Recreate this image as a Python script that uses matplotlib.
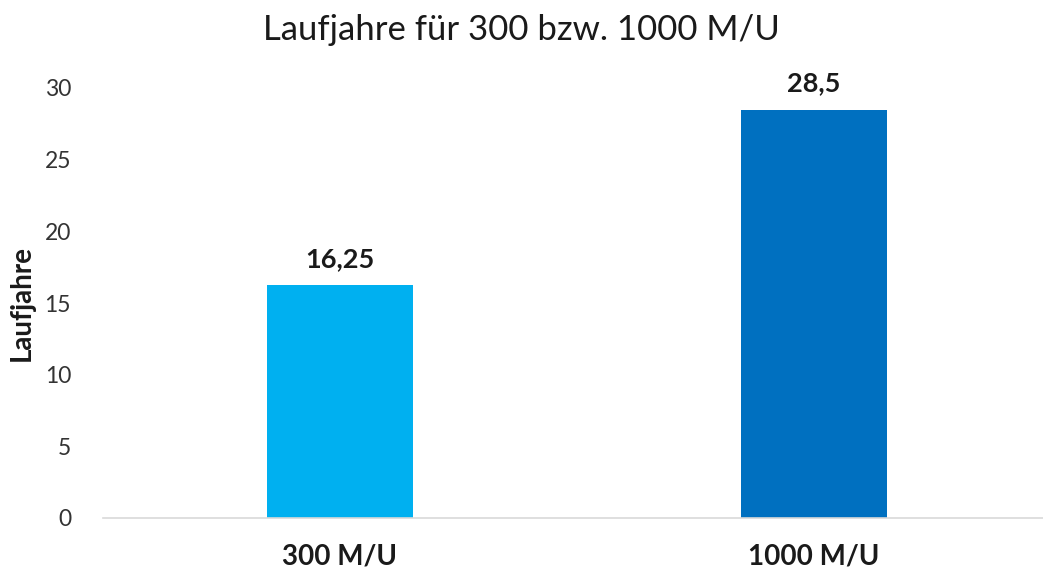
import matplotlib
matplotlib.use("Agg")
import matplotlib.pyplot as plt

categories = ["300 M/U", "1000 M/U"]
laufjahre = [16.25, 28.5]
value_labels = ["16,25", "28,5"]
bar_colors = ["#00B0F0", "#0070C0"]
y_ticks = [0, 5, 10, 15, 20, 25, 30]

plt.rcParams['font.family'] = ['Lato', 'DejaVu Sans']

fig = plt.figure(figsize=(10.43, 5.70), dpi=100)
ax = fig.add_axes([103 / 1043, 52 / 570, 948 / 1043, 430 / 570])

x = range(len(categories))
bars = ax.bar(x, laufjahre, width=0.31, color=bar_colors)

# Werte über den Balken
for bar, lbl in zip(bars, value_labels):
    ax.annotate(lbl, (bar.get_x() + bar.get_width() / 2, bar.get_height()),
                xytext=(0, 13), textcoords="offset points",
                ha="center", va="baseline", fontsize=19.5, fontweight="bold", color="#1a1a1a")

ax.set_xlim(-0.5, 1.5)
ax.set_ylim(0, 30)
ax.set_yticks(y_ticks)
ax.set_xticks(list(x))
ax.set_xticklabels(categories, fontsize=20, fontweight="bold", color="#1a1a1a")
ax.tick_params(axis="y", length=0, pad=23, labelsize=16.5, labelcolor="#333333")
ax.tick_params(axis="x", length=0, pad=18)

for side in ["top", "right", "left"]:
    ax.spines[side].set_visible(False)
ax.spines["bottom"].set_color("#d9d9d9")
ax.spines["bottom"].set_linewidth(1.2)

ax.set_ylabel("Laufjahre", fontsize=20, fontweight="bold", color="#1a1a1a")
ax.yaxis.set_label_coords(-0.072, 0.5)
fig.text(0.5, 0.93, "Laufjahre für 300 bzw. 1000 M/U", ha="center", va="baseline",
         fontsize=25, color="#1a1a1a")

fig.savefig("out.png", dpi=100)
